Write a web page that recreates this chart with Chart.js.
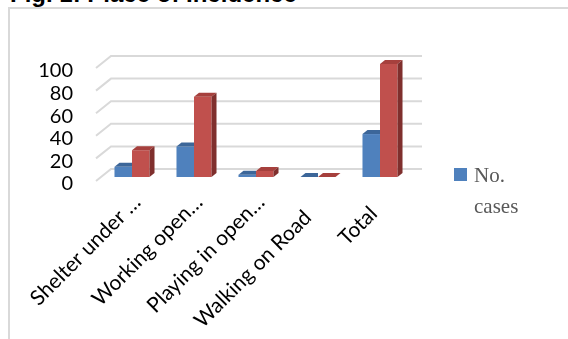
<!DOCTYPE html>
<html>
<head>
<meta charset="utf-8">
<script src="https://cdn.jsdelivr.net/npm/chart.js@4.4.0/dist/chart.umd.min.js"></script>
<style>
  html, body { margin: 0; padding: 0; background: #fff; overflow: hidden; }
  #wrap { position: relative; width: 568px; height: 339px; }
  #title { position: absolute; left: 10px; top: -18px; font: bold 24px "Liberation Sans", Arial, sans-serif; line-height: 24px; color: #000; white-space: nowrap; }
  #box { position: absolute; left: 8px; top: 7px; right: -4px; bottom: -4px; border: 2px solid #d9d9d9; }
  canvas { position: absolute; left: 0; top: 0; }
</style>
</head>
<body>
<div id="wrap">
  <div id="title">Fig. 1: Place of Incidence</div>
  <div id="box"></div>
  <canvas id="chart" width="568" height="339"></canvas>
</div>
<script>
// full labels carry trailing spaces: the truncated ones sit further up the slant
const categories = ['Shelter under …', 'Working open…', 'Playing in open…', 'Walking on Road    ', 'Total   '];
const noCases = [9, 27, 2, 0, 38];
const percent = [23.7, 71.1, 5.3, 0, 100];
const yTicks = [0, 20, 40, 60, 80, 100];

// fake 3D depth, in px
const DX = 5, DY = 4;

// back wall gridlines with the little floor diagonals
const wallGrid = {
  id: 'wallGrid',
  beforeDatasetsDraw(chart) {
    const { ctx, chartArea: a, scales: { y } } = chart;
    ctx.save();
    ctx.strokeStyle = '#d9d9d9';
    ctx.lineWidth = 2;
    yTicks.forEach(v => {
      const yf = y.getPixelForValue(v);
      ctx.beginPath();
      ctx.moveTo(a.left - 5, yf + 4);
      ctx.lineTo(a.left + 10, yf - 8);
      ctx.lineTo(a.right + 11, yf - 8);
      ctx.stroke();
    });
    ctx.restore();
  }
};

// top and side faces for each bar
const bars3d = {
  id: 'bars3d',
  afterDatasetDraw(chart, args) {
    const ds = chart.data.datasets[args.index];
    const ctx = chart.ctx;
    const hasNext = args.index < chart.data.datasets.length - 1;
    args.meta.data.forEach(bar => {
      const { x, y, base, width } = bar.getProps(['x', 'y', 'base', 'width'], true);
      const l = x - width / 2, r = x + width / 2;
      ctx.save();
      if (hasNext) {
        // the neighbour bar hides whatever sits right of this one
        ctx.beginPath();
        ctx.rect(l - 1, 0, width + 1, chart.height);
        ctx.clip();
      }
      ctx.fillStyle = ds.topColor;
      ctx.beginPath();
      ctx.moveTo(l, y);
      ctx.lineTo(l + DX, y - DY);
      ctx.lineTo(r + DX, y - DY);
      ctx.lineTo(r, y);
      ctx.closePath();
      ctx.fill();
      ctx.fillStyle = ds.sideColor;
      ctx.beginPath();
      ctx.moveTo(r, y);
      ctx.lineTo(r + DX, y - DY);
      ctx.lineTo(r + DX, base - DY);
      ctx.lineTo(r, base);
      ctx.closePath();
      ctx.fill();
      ctx.restore();
    });
  }
};

// legend only lists the first series, label wrapped on two lines
const sideLegend = {
  id: 'sideLegend',
  afterDraw(chart) {
    const ctx = chart.ctx;
    const ds = chart.data.datasets[0];
    ctx.save();
    ctx.fillStyle = ds.backgroundColor;
    ctx.fillRect(454, 168, 13, 13);
    ctx.fillStyle = '#595959';
    ctx.font = '21px "Liberation Serif", "Times New Roman", serif';
    ctx.textBaseline = 'alphabetic';
    ds.label.split(' ').forEach((w, i) => ctx.fillText(w, 474, 182 + i * 31));
    ctx.restore();
  }
};

new Chart(document.getElementById('chart'), {
  type: 'bar',
  data: {
    labels: categories,
    datasets: [
      { label: 'No. cases', data: noCases, backgroundColor: '#4f81bd', topColor: '#3c6699', sideColor: '#2f5380' },
      { label: '%', data: percent, backgroundColor: '#c0504d', topColor: '#a6403d', sideColor: '#7f2f2d' }
    ]
  },
  options: {
    responsive: false,
    animation: false,
    categoryPercentage: 0.565,
    barPercentage: 1,
    layout: { padding: { left: 0, right: 157, top: 64, bottom: 0 } },
    plugins: { legend: { display: false }, tooltip: { enabled: false } },
    scales: {
      x: {
        grid: { display: false, drawTicks: false },
        border: { display: false },
        afterFit: s => { s.height = 162; s.paddingLeft = 0; s.paddingRight = 0; },
        ticks: {
          autoSkip: false, minRotation: 45, maxRotation: 45,
          color: '#000', padding: 13, labelOffset: 5,
          font: { family: 'Lato', size: 21 }
        }
      },
      y: {
        min: 0, max: 100,
        afterBuildTicks: ax => { ax.ticks = yTicks.map(v => ({ value: v })); },
        afterFit: s => { s.width = 101; },
        grid: { display: false, drawTicks: false },
        border: { display: false },
        ticks: { autoSkip: false, color: '#000', padding: 28, labelOffset: 7, font: { family: 'Lato', size: 20 } }
      }
    }
  },
  plugins: [wallGrid, bars3d, sideLegend]
});
</script>
</body>
</html>
